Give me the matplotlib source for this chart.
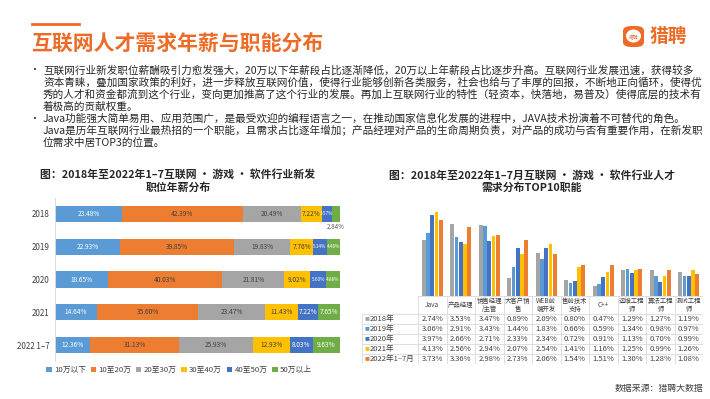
import matplotlib
matplotlib.use('Agg')
import matplotlib.pyplot as plt
from matplotlib.patches import FancyBboxPatch, Ellipse
import numpy as np

plt.rcParams['font.family'] = ['Noto Sans CJK SC', 'DejaVu Sans']

# left chart: salary band shares (%) per year
years_left = ['2018', '2019', '2020', '2021', '2022 1–7']
bands = ['10万以下', '10至20万', '20至30万', '30至40万', '40至50万', '50万以上']
below_10 = [23.48, 22.93, 18.65, 14.64, 12.36]
from_10_20 = [42.39, 39.85, 40.03, 35.60, 31.13]
from_20_30 = [20.49, 19.83, 21.81, 23.47, 25.93]
from_30_40 = [7.22, 7.76, 9.02, 11.43, 12.93]
from_40_50 = [3.57, 5.14, 5.60, 7.22, 8.03]
above_50 = [2.84, 4.48, 4.88, 7.65, 9.63]

# right chart: top 10 job functions (%)
roles = ['Java', '产品经理', '销售经理\n/主管', '大客户销\n售', 'WEB前\n端开发',
         '售前技术\n支持', 'C++', '运维工程\n师', '算法工程\n师', '测试工程\n师']
years_right = ['2018年', '2019年', '2020年', '2021年', '2022年1–7月']
r2018 = [2.74, 3.53, 3.47, 0.89, 2.09, 0.80, 0.47, 1.29, 1.27, 1.19]
r2019 = [3.06, 2.91, 3.43, 1.44, 1.83, 0.66, 0.59, 1.34, 0.98, 0.97]
r2020 = [3.97, 2.66, 2.71, 2.33, 2.34, 0.72, 0.91, 1.13, 0.70, 0.99]
r2021 = [4.13, 2.56, 2.94, 2.07, 2.54, 1.41, 1.16, 1.25, 0.99, 1.26]
r2022 = [3.73, 3.36, 2.98, 2.73, 2.06, 1.54, 1.51, 1.30, 1.28, 1.08]

ORANGE = '#EC6B26'
band_colors = ['#5B9BD5', '#ED7D31', '#A5A5A5', '#FFC000', '#4472C4', '#70AD47']
band_text = ['white', '#404040', '#404040', '#404040', 'white', 'white']
year_colors = ['#A5A5A5', '#5B9BD5', '#4472C4', '#FFC000', '#ED7D31']

W, H = 710, 399
fig = plt.figure(figsize=(W / 100, H / 100), dpi=100)


def rect(x0, y0, x1, y1):
    return [x0 / W, 1 - y1 / H, (x1 - x0) / W, (y1 - y0) / H]


def ftext(x, y, s, **kw):
    fig.text(x / W, 1 - y / H, s, **kw)


# header
fig.add_artist(plt.Line2D([32 / W, 79 / W], [1 - 24 / H] * 2, color=ORANGE, lw=2))
ftext(31, 43, '互联网人才需求年薪与职能分布', fontsize=15, color=ORANGE,
      fontweight='bold', va='center')
fig.add_artist(FancyBboxPatch((623 / W, 1 - 47 / H), 21 / W, 21 / H,
                              boxstyle='round,pad=0,rounding_size=0.012',
                              fc=ORANGE, ec='none', transform=fig.transFigure))
fig.add_artist(Ellipse((633.5 / W, 1 - 36 / H), 15 / W, 13 / H, fc='white',
                       ec='none', transform=fig.transFigure))
ftext(633.5, 36.5, '猎聘', fontsize=3.5, color=ORANGE, ha='center', va='center')
ftext(650, 36, '猎聘', fontsize=13.5, color=ORANGE, fontweight='bold', va='center')

bullets = [
    ['互联网行业新发职位薪酬吸引力愈发强大，20万以下年薪段占比逐渐降低，20万以上年薪段占比逐步升高。互联网行业发展迅速，获得较多',
     '资本青睐，叠加国家政策的利好，进一步释放互联网价值，使得行业能够创新各类服务，社会也给与了丰厚的回报，不断地正向循环，使得优',
     '秀的人才和资金都流到这个行业，变向更加推高了这个行业的发展。再加上互联网行业的特性（轻资本，快落地，易普及）使得底层的技术有',
     '着极高的贡献权重。'],
    ['Java功能强大简单易用、应用范围广，是最受欢迎的编程语言之一，在推动国家信息化发展的进程中，JAVA技术扮演着不可替代的角色。',
     'Java是历年互联网行业最热招的一个职能，且需求占比逐年增加；产品经理对产品的生命周期负责，对产品的成功与否有重要作用，在新发职',
     '位需求中居TOP3的位置。'],
]
y = 70
for para in bullets:
    ftext(29, y, '•', fontsize=7, color='#262626', va='center')
    for line in para:
        ftext(43, y, line, fontsize=7.65, color='#262626', va='center')
        y += 12.2

# left chart
ftext(178, 175, '图：2018年至2022年1–7互联网 · 游戏 · 软件行业新发', fontsize=7.8,
      fontweight='bold', color='#262626', ha='center', va='center')
ftext(178, 187.5, '职位年薪分布', fontsize=7.8, fontweight='bold', color='#262626',
      ha='center', va='center')

ax = fig.add_axes(rect(55, 197.6, 340, 361.4))
shares = np.array([below_10, from_10_20, from_20_30, from_30_40, from_40_50, above_50])
ypos = np.arange(len(years_left))
left = np.zeros(len(years_left))
for i, band in enumerate(bands):
    ax.barh(ypos, shares[i], left=left, height=0.49, color=band_colors[i], label=band)
    for j, v in enumerate(shares[i]):
        cx = left[j] + v / 2
        if v < 3:
            ax.text(cx, j + 0.4, f'{v:.2f}%', fontsize=4.5, color='#595959',
                    ha='center', va='center')
        else:
            fs = 4.7 if v >= 6.5 else 3.4
            ax.text(cx, j, f'{v:.2f}%', fontsize=fs, color=band_text[i],
                    ha='center', va='center')
    left += shares[i]
ax.set_xlim(0, 100)
ax.set_ylim(4.5, -0.5)
ax.set_yticks(ypos)
ax.set_yticklabels(years_left, fontsize=5.8, color='#404040')
ax.set_xticks([])
ax.tick_params(axis='y', length=0, pad=4)
for s in ['top', 'right', 'bottom']:
    ax.spines[s].set_visible(False)
ax.spines['left'].set_color('#D9D9D9')
ax.spines['left'].set_linewidth(0.7)
fig.legend(*ax.get_legend_handles_labels(), loc='center', ncol=6,
           bbox_to_anchor=(179 / W, 1 - 370 / H), frameon=False, fontsize=5.6,
           handlelength=0.7, handleheight=0.7, handletextpad=0.3,
           columnspacing=0.6, labelcolor='#404040')

# right chart
ftext(532, 175, '图：2018年至2022年1–7月互联网 · 游戏 · 软件行业人才', fontsize=7.8,
      fontweight='bold', color='#262626', ha='center', va='center')
ftext(532, 187.5, '需求分布TOP10职能', fontsize=7.8, fontweight='bold', color='#262626',
      ha='center', va='center')

bx = fig.add_axes(rect(418, 204, 703, 296))
series = [r2018, r2019, r2020, r2021, r2022]
x = np.arange(len(roles))
for k, vals in enumerate(series):
    bx.bar(x + (k - 2) * 0.148, vals, width=0.138, color=year_colors[k])
bx.set_xlim(-0.5, len(roles) - 0.5)
bx.set_ylim(0, 4.5)
bx.axis('off')

tx = fig.add_axes(rect(362, 296, 703, 364))
lab_w = 56 / 28.5
x0 = -0.5 - lab_w
x1 = len(roles) - 0.5
hdr = 1.8
nrows = len(years_right)
tx.set_xlim(x0, x1)
tx.set_ylim(hdr + nrows, 0)
tx.axis('off')
grid = '#D9D9D9'
tx.plot([-0.5, x1], [0, 0], color=grid, lw=0.6)
for r in range(nrows + 1):
    tx.plot([x0, x1], [hdr + r] * 2, color=grid, lw=0.6)
for c in range(len(roles) + 1):
    tx.plot([c - 0.5] * 2, [0, hdr + nrows], color=grid, lw=0.6)
tx.plot([x0, x0], [hdr, hdr + nrows], color=grid, lw=0.6)
for c, role in enumerate(roles):
    tx.text(c, hdr / 2, role, fontsize=4.6, color='#404040', ha='center',
            va='center', linespacing=1.05)
for r, (yr, vals) in enumerate(zip(years_right, series)):
    yc = hdr + r + 0.5
    tx.text(x0 + 0.1, yc, '■', fontsize=3.5, color=year_colors[r], va='center')
    tx.text(x0 + 0.27, yc, yr, fontsize=5.5, color='#404040', va='center')
    for c, v in enumerate(vals):
        tx.text(c, yc, f'{v:.2f}%', fontsize=5.5, color='#404040',
                ha='center', va='center')

ftext(703, 389, '数据来源：猎聘大数据', fontsize=6.4, color='#404040',
      ha='right', va='center')

fig.savefig('out.png', dpi=100)
